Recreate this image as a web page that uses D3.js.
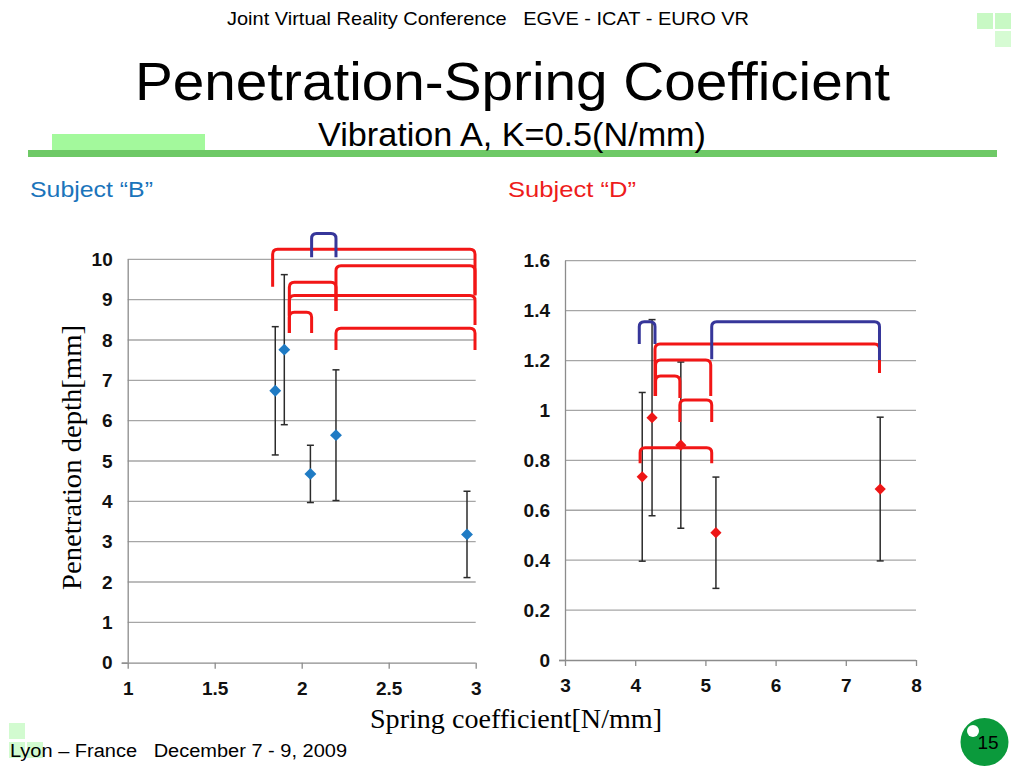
<!DOCTYPE html>
<html><head><meta charset="utf-8">
<script src="https://cdn.jsdelivr.net/npm/d3@7"></script>
<style>
html,body{margin:0;padding:0;background:#fff;}
svg{display:block;}
</style>
</head><body>
<svg id="chart" width="1024" height="768"></svg>
<script>
// ---------- DATA ----------
// Subject "B"
const subjB_x    = [1.848, 1.90, 2.05, 2.197, 2.95];
const subjB_mean = [6.74, 7.76, 4.68, 5.64, 3.18];
const subjB_err  = [1.59, 1.86, 0.71, 1.62, 1.07];
// Subject "D"
const subjD_x    = [4.10, 4.24, 4.65, 5.15, 7.49];
const subjD_mean = [0.734, 0.971, 0.861, 0.510, 0.685];
const subjD_err  = [0.338, 0.393, 0.333, 0.223, 0.288];

// significance brackets: [x1, x2, top, leftLegEnd, rightLegEnd]
const bracketsB_red  = [
  [1.833, 2.996, 10.25, 9.32, 9.12],
  [2.197, 2.996, 9.84, 8.72, 9.10],
  [1.929, 2.197, 9.43, 8.60, 8.72],
  [1.929, 2.996, 9.10, 8.17, 8.37],
  [1.929, 2.057, 8.69, 8.17, 8.17],
  [2.197, 2.996, 8.29, 7.75, 7.75]
];
const bracketsB_blue = [
  [2.057, 2.197, 10.64, 10.05, 10.05]
];
const bracketsD_red  = [
  [4.282, 7.48, 1.266, 1.058, 1.150],
  [4.29, 5.076, 1.202, 1.058, 1.058],
  [4.29, 4.636, 1.138, 1.058, 1.050],
  [4.636, 5.09, 1.042, 0.954, 0.954],
  [4.07, 5.09, 0.850, 0.788, 0.788]
];
const bracketsD_blue = [
  [4.058, 4.282, 1.355, 1.266, 1.266],
  [5.09, 7.48, 1.355, 1.205, 1.202]
];

// ticks
const ticksB_x = [1, 1.5, 2, 2.5, 3];
const ticksB_xLabels = ["1", "1.5", "2", "2.5", "3"];
const ticksB_y = [0,1,2,3,4,5,6,7,8,9,10];
const ticksB_yLabels = ["0","1","2","3","4","5","6","7","8","9","10"];
const ticksD_x = [3,4,5,6,7,8];
const ticksD_xLabels = ["3","4","5","6","7","8"];
const ticksD_y = [0,0.2,0.4,0.6,0.8,1,1.2,1.4,1.6];
const ticksD_yLabels = ["0","0.2","0.4","0.6","0.8","1","1.2","1.4","1.6"];

// texts
const headerText = "Joint Virtual Reality Conference   EGVE - ICAT - EURO VR";
const titleText = "Penetration-Spring Coefficient";
const subtitleText = "Vibration A, K=0.5(N/mm)";
const subjectB = "Subject \u201CB\u201D";
const subjectD = "Subject \u201CD\u201D";
const yLabel = "Penetration depth[mm]";
const xLabel = "Spring coefficient[N/mm]";
const footerText = "Lyon \u2013 France   December 7 - 9, 2009";
const pageNum = "15";

// ---------- DRAW ----------
const svg = d3.select("#chart");
const sans = "'Liberation Sans', Arial, Helvetica, sans-serif";
const serif = "'Liberation Serif', 'Times New Roman', serif";

// decorations
const deco = svg.append("g");
deco.append("rect").attr("x",52).attr("y",134).attr("width",153).attr("height",17).attr("fill","#a3f99c");
deco.append("rect").attr("x",28).attr("y",150).attr("width",969).attr("height",7).attr("fill","#6ec966");
[[977,13],[995,13],[995,31]].forEach(([x,y],i)=>{
  deco.append("rect").attr("x",x).attr("y",y).attr("width",16).attr("height",16)
    .attr("fill", i===2 ? "#d6fbd3" : "#c8f9c4");
});
[[9,723],[9,742],[27,742]].forEach(([x,y])=>{
  deco.append("rect").attr("x",x).attr("y",y).attr("width",16).attr("height",16).attr("fill","#d2fbd0");
});

function fitText(sel, w){ sel.attr("textLength", w).attr("lengthAdjust","spacingAndGlyphs"); return sel; }

fitText(svg.append("text").attr("x",227).attr("y",25).attr("font-family",sans).attr("font-size",19)
  .attr("fill","#000").attr("xml:space","preserve").text(headerText), 522);
fitText(svg.append("text").attr("x",135).attr("y",100).attr("font-family",sans).attr("font-size",54)
  .attr("fill","#000").text(titleText), 755);
fitText(svg.append("text").attr("x",318).attr("y",146).attr("font-family",sans).attr("font-size",34)
  .attr("fill","#000").text(subtitleText), 388);

fitText(svg.append("text").attr("x",30).attr("y",197).attr("font-family",sans).attr("font-size",22)
  .attr("fill","#1a74bb").text(subjectB), 123);
fitText(svg.append("text").attr("x",508).attr("y",197).attr("font-family",sans).attr("font-size",22)
  .attr("fill","#ee1c1c").text(subjectD), 128);

fitText(svg.append("text").attr("transform","translate(81,590) rotate(-90)").attr("font-family",serif)
  .attr("font-size",27).attr("fill","#000").text(yLabel), 265);
fitText(svg.append("text").attr("x",370).attr("y",728).attr("font-family",serif).attr("font-size",27)
  .attr("fill","#000").text(xLabel), 292);

fitText(svg.append("text").attr("x",10).attr("y",757).attr("font-family",sans).attr("font-size",18)
  .attr("fill","#000").attr("xml:space","preserve").text(footerText), 337);

// page number badge
svg.append("circle").attr("cx",984.5).attr("cy",742).attr("r",24).attr("fill","#0b9a3c");
svg.append("circle").attr("cx",973).attr("cy",731).attr("r",6).attr("fill","#fff");
svg.append("text").attr("x",988).attr("y",749).attr("text-anchor","middle").attr("font-family",sans)
  .attr("font-size",19).attr("fill","#000").text(pageNum);

function bracketPath(x, y, b){
  const [a1,a2,t,l,r] = b;
  const X1 = x(a1), X2 = x(a2), T = y(t), L = y(l), R = y(r);
  const rad = 5;
  return `M${X1},${L} L${X1},${T+rad} Q${X1},${T} ${X1+rad},${T} L${X2-rad},${T} Q${X2},${T} ${X2},${T+rad} L${X2},${R}`;
}

function drawPanel(cfg){
  const {x, y, xs, means, errs, xt, xtl, yt, ytl, red, blue, markerColor, markerSize} = cfg;
  const g = svg.append("g");
  const [x0, x1] = x.range();
  const [y0, y1] = y.range();
  // gridlines
  g.append("g").selectAll("line").data(yt.slice(1)).join("line")
    .attr("x1", x0).attr("x2", x1).attr("y1", d=>y(d)).attr("y2", d=>y(d))
    .attr("stroke","#a6a6a6").attr("stroke-width",1.3);
  // y axis
  const ya = g.append("g").attr("transform",`translate(${x0},0)`)
    .call(d3.axisLeft(y).tickValues(yt).tickFormat((d,i)=>ytl[i]).tickSize(6).tickPadding(9));
  // x axis
  const xa = g.append("g").attr("transform",`translate(0,${y0})`)
    .call(d3.axisBottom(x).tickValues(xt).tickFormat((d,i)=>xtl[i]).tickSize(6).tickPadding(13));
  xa.select(".domain").attr("d", `M${x0-6},0.5H${x1}`);
  ya.select(".domain").attr("d", `M0.5,${y0}V${y1}`);
  [ya, xa].forEach(a=>{
    a.select(".domain").attr("stroke","#8c8c8c").attr("stroke-width",1.3);
    a.selectAll(".tick line").attr("stroke","#8c8c8c").attr("stroke-width",1.3);
    a.selectAll(".tick text").attr("font-family",sans).attr("font-weight","bold")
      .attr("font-size",19).attr("fill","#111");
  });
  ya.selectAll(".tick").filter((d,i)=>i>0).select("line").remove();
  // error bars
  const eb = g.append("g").attr("stroke","#2b2b2b").attr("stroke-width",1.5).attr("fill","none");
  xs.forEach((xv,i)=>{
    const X = x(xv), Yt = y(means[i]+errs[i]), Yb = y(means[i]-errs[i]);
    eb.append("line").attr("x1",X).attr("x2",X).attr("y1",Yt).attr("y2",Yb);
    eb.append("line").attr("x1",X-3.5).attr("x2",X+3.5).attr("y1",Yt).attr("y2",Yt);
    eb.append("line").attr("x1",X-3.5).attr("x2",X+3.5).attr("y1",Yb).attr("y2",Yb);
  });
  // markers
  g.append("g").selectAll("path").data(xs).join("path")
    .attr("transform",(d,i)=>`translate(${x(d)},${y(means[i])})`)
    .attr("d", d3.symbol(d3.symbolDiamond2, markerSize))
    .attr("fill", markerColor);
  // brackets
  g.append("g").selectAll("path").data(red).join("path")
    .attr("d", b=>bracketPath(x,y,b)).attr("fill","none").attr("stroke","#f21616")
    .attr("stroke-width",3).attr("stroke-linecap","butt");
  g.append("g").selectAll("path").data(blue).join("path")
    .attr("d", b=>bracketPath(x,y,b)).attr("fill","none").attr("stroke","#36369a")
    .attr("stroke-width",3).attr("stroke-linecap","butt");
}

drawPanel({
  x: d3.scaleLinear().domain([1,3]).range([127.7,475.7]),
  y: d3.scaleLinear().domain([0,10]).range([662.7,259.3]),
  xs: subjB_x, means: subjB_mean, errs: subjB_err,
  xt: ticksB_x, xtl: ticksB_xLabels, yt: ticksB_y, ytl: ticksB_yLabels,
  red: bracketsB_red, blue: bracketsB_blue, markerColor:"#1f7bc4", markerSize: 90
});
drawPanel({
  x: d3.scaleLinear().domain([3,8]).range([565,916]),
  y: d3.scaleLinear().domain([0,1.6]).range([660,260.7]),
  xs: subjD_x, means: subjD_mean, errs: subjD_err,
  xt: ticksD_x, xtl: ticksD_xLabels, yt: ticksD_y, ytl: ticksD_yLabels,
  red: bracketsD_red, blue: bracketsD_blue, markerColor:"#ee1616", markerSize: 80
});
</script>
</body></html>
